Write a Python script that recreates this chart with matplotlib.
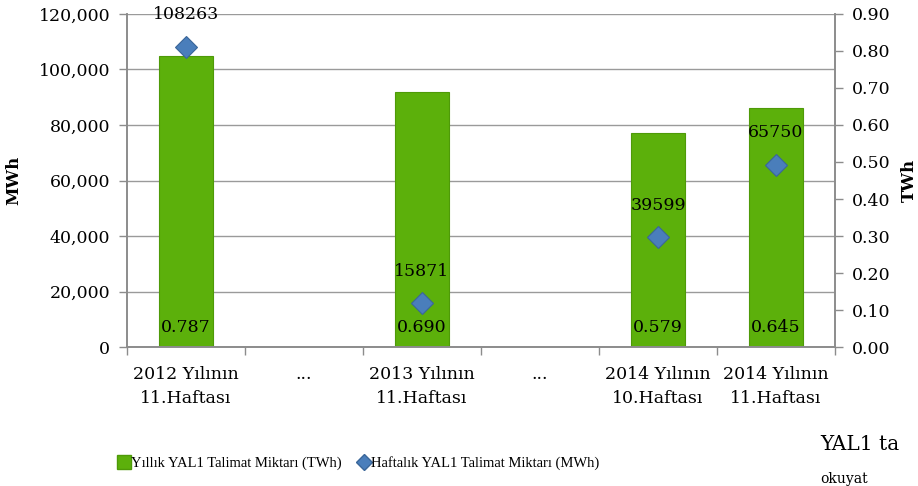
import numpy as np
import matplotlib.pyplot as plt
import matplotlib.transforms as mtransforms
from matplotlib.lines import Line2D
from matplotlib.ticker import FuncFormatter, FixedLocator

categories = ["2012 Yılının\n11.Haftası", "...", "2013 Yılının\n11.Haftası", "...",
              "2014 Yılının\n10.Haftası", "2014 Yılının\n11.Haftası"]
yearly_twh = [0.787, np.nan, 0.690, np.nan, 0.579, 0.645]
weekly_mwh = [108263, np.nan, 15871, np.nan, 39599, 65750]
mwh_ticks = [0, 20000, 40000, 60000, 80000, 100000, 120000]
twh_ticks = [0.0, 0.1, 0.2, 0.3, 0.4, 0.5, 0.6, 0.7, 0.8, 0.9]

plt.rcParams['font.family'] = ['DejaVu Serif']
green = '#5CB00B'
blue = '#4A7EBB'
grey = '#8C8C8C'

fig = plt.figure(figsize=(9.18, 4.86), dpi=100)
ax = fig.add_axes([0.1383, 0.286, 0.7713, 0.6852])
ax2 = ax.twinx()

x = np.arange(len(categories))
ax.set_ylim(0, 120000)
ax2.set_ylim(0, 0.9)

# gridlines at the MWh ticks, drawn on the bar axis so they stay behind the bars
blend = mtransforms.blended_transform_factory(ax2.transAxes, ax.transData)
for t in mwh_ticks:
    ax2.add_line(Line2D([0, 1], [t, t], transform=blend, color='#9A9A9A', linewidth=1.0, zorder=0))

# bars on the secondary (TWh) axis
ax2.bar(x, yearly_twh, width=0.46, color=green, edgecolor='#4E9A08', linewidth=0.8, zorder=2)
for xi, v in zip(x, yearly_twh):
    if not np.isnan(v):
        ax2.annotate(f"{v:.3f}", (xi, 0), xytext=(0, 14), textcoords='offset points',
                     ha='center', va='center', fontsize=12.5, zorder=4)
ax2.set_yticks(twh_ticks)
ax2.yaxis.set_major_formatter(FuncFormatter(lambda v, p: f"{v:.2f}"))
ax2.set_ylabel("TWh", fontsize=12, fontweight='bold')
ax2.yaxis.set_label_coords(1.093, 0.5)

# diamonds on the primary (MWh) axis, drawn on top
ax.set_zorder(ax2.get_zorder() + 1)
ax.patch.set_visible(False)
ax.plot(x, weekly_mwh, linestyle='none', marker='D', markersize=11,
        markerfacecolor=blue, markeredgecolor='#3A6699', markeredgewidth=0.8, zorder=3)
for xi, v in zip(x, weekly_mwh):
    if not np.isnan(v):
        ax.annotate(f"{int(v)}", (xi, v), xytext=(0, 23), textcoords='offset points',
                    ha='center', va='center', fontsize=12.5)
ax.set_yticks(mwh_ticks)
ax.yaxis.set_major_formatter(FuncFormatter(lambda v, p: f"{int(v):,}"))
ax.set_ylabel("MWh", fontsize=12, fontweight='bold')
ax.yaxis.set_label_coords(-0.148, 0.5)

ax.set_xlim(-0.5, len(categories) - 0.5)
ax.set_xticks(x)
ax.set_xticklabels(categories, fontsize=12.5, linespacing=1.5)
ax.xaxis.set_minor_locator(FixedLocator(np.arange(-0.5, len(categories), 1.0)))
ax.tick_params(axis='x', which='major', length=0, pad=14)
ax.tick_params(axis='x', which='minor', length=6, color=grey, width=1)
ax.tick_params(axis='y', length=6, color=grey, width=1, labelsize=12.5, pad=6)
ax2.tick_params(axis='y', length=6, color=grey, width=1, labelsize=12.5, pad=6)

for a in (ax, ax2):
    a.spines['top'].set_visible(False)
    for s in ('left', 'right', 'bottom'):
        a.spines[s].set_color(grey)
        a.spines[s].set_linewidth(1.2)

handles = [
    Line2D([], [], linestyle='none', marker='s', markersize=10, markerfacecolor=green,
           markeredgecolor='#4E9A08', label='Yıllık YAL1 Talimat Miktarı (TWh)'),
    Line2D([], [], linestyle='none', marker='D', markersize=8, markerfacecolor=blue,
           markeredgecolor='#3A6699', label='Haftalık YAL1 Talimat Miktarı (MWh)'),
]
fig.legend(handles=handles, loc='center left', bbox_to_anchor=(0.124, 0.047), ncol=2,
           frameon=False, prop={'family': 'Liberation Serif', 'size': 10.5},
           handlelength=0.6, handletextpad=0.2, columnspacing=1.2, borderaxespad=0)

fig.text(0.893, 0.085, "YAL1 ta", fontsize=14.5, va='center', ha='left')
fig.text(0.893, 0.0, "okuyat", fontsize=10, va='bottom', ha='left')

fig.savefig("out.png", dpi=100)
